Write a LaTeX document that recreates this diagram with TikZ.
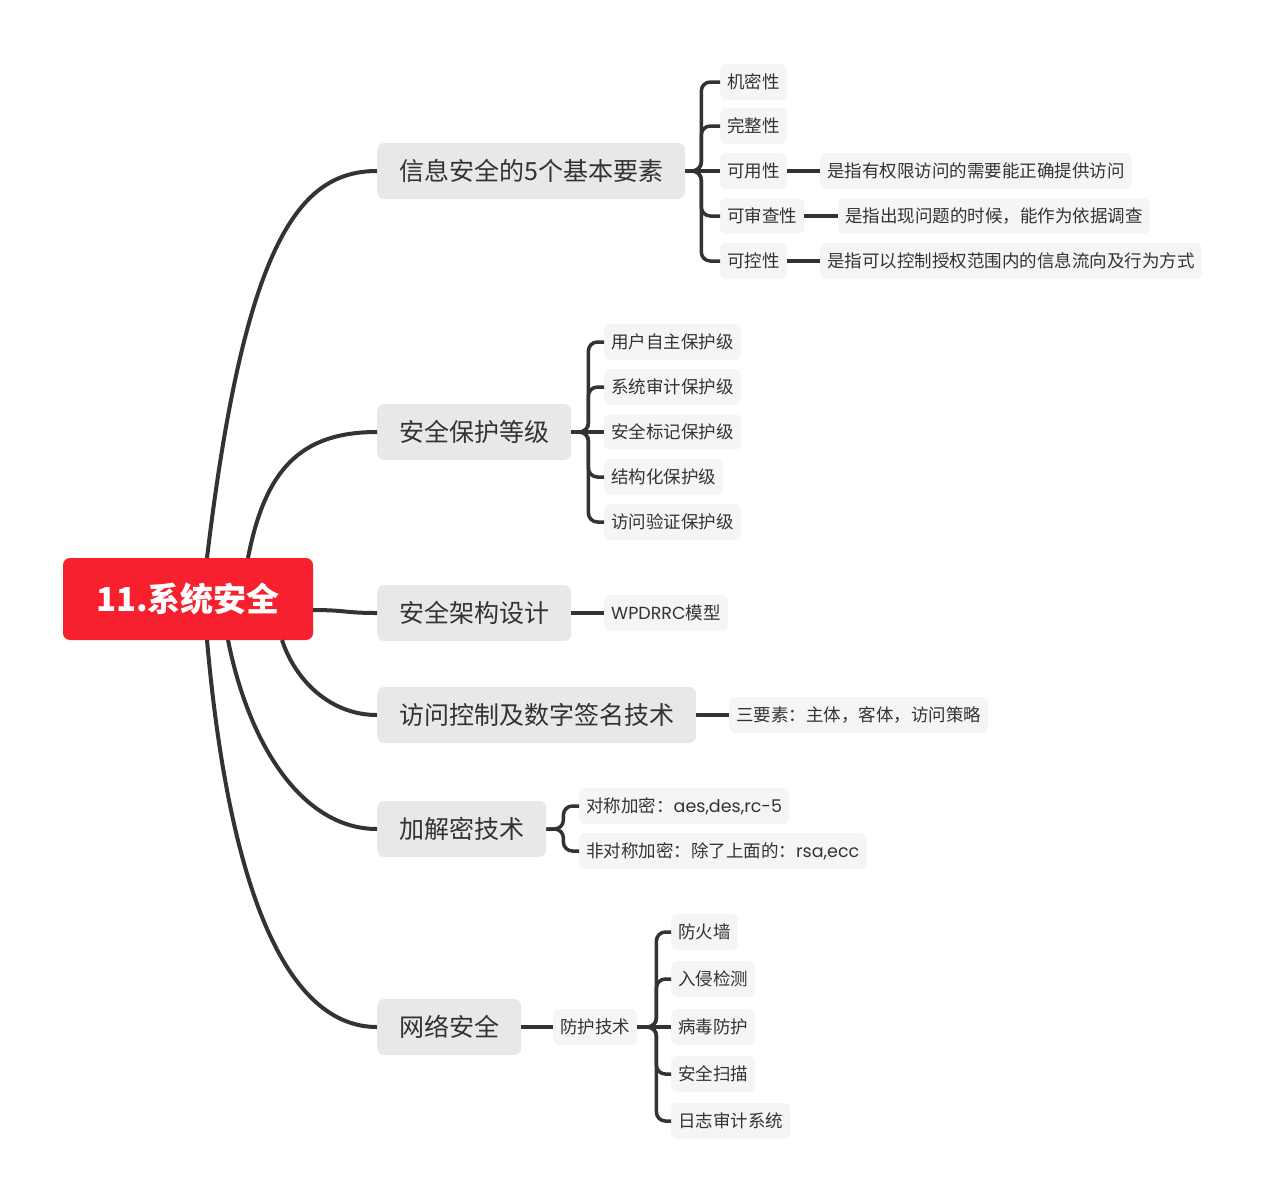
\documentclass[tikz,border=0pt]{standalone}
\usepackage{fontspec}
\setmainfont{Noto Sans CJK SC}
\newfontfamily\latin{Poppins}
\definecolor{rootred}{HTML}{F7202F}
\definecolor{topicgray}{HTML}{E8E8E8}
\definecolor{leafgray}{HTML}{F5F5F5}
\definecolor{ink}{HTML}{333333}
\begin{document}
\begin{tikzpicture}[x=1pt,y=-1pt,
		rootbox/.style={fill=rootred, text=white, rounded corners=7pt, minimum width=250pt, minimum height=82pt, font=\fontsize{33}{38}\selectfont\bfseries},
		topic/.style={anchor=west, fill=topicgray, text=ink, rounded corners=7pt, minimum height=56pt, inner xsep=22pt, font=\fontsize{25}{30}\selectfont},
		leaf/.style={anchor=west, fill=leafgray, text=ink, rounded corners=6pt, minimum height=36pt, inner xsep=7pt, font=\fontsize{17.5}{21}\selectfont},
		mainline/.style={draw=ink, line width=4pt},
		subline/.style={draw=ink, line width=3.5pt, rounded corners=9pt}]
		\useasboundingbox (0,0) rectangle (1265,1203);

		% root and main topics
		\node (root) at (188,599) [rootbox] {11.系统安全};
		\node (elem) at (377,171) [topic] {信息安全的5个基本要素};
		\node (level) at (377,432) [topic] {安全保护等级};
		\node (arch) at (377,613) [topic] {安全架构设计};
		\node (acc) at (377,715) [topic] {访问控制及数字签名技术};
		\node (crypt) at (377,829) [topic] {加解密技术};
		\node (net) at (377,1027) [topic] {网络安全};

		\draw[mainline] (207,558) .. controls (245,240) and (300,171) .. (elem.west);
		\draw[mainline] (248,558) .. controls (265,470) and (300,432) .. (level.west);
		\draw[mainline] (root.east |- 0,610) .. controls (345,610) and (345,613) .. (arch.west);
		\draw[mainline] (282,640) .. controls (295,680) and (330,715) .. (acc.west);
		\draw[mainline] (228,640) .. controls (250,750) and (305,829) .. (crypt.west);
		\draw[mainline] (207,640) .. controls (230,900) and (290,1027) .. (net.west);

		% five elements
		\node (conf) at (720,82) [leaf] {机密性};
		\node (integ) at (720,126) [leaf] {完整性};
		\node (avail) at (720,171) [leaf] {可用性};
		\node (audit) at (720,216) [leaf] {可审查性};
		\node (ctrl) at (720,261) [leaf] {可控性};
		\node (availtxt) at (820,171) [leaf] {是指有权限访问的需要能正确提供访问};
		\node (audittxt) at (838,216) [leaf] {是指出现问题的时候，能作为依据调查};
		\node (ctrltxt) at (820,261) [leaf] {是指可以控制授权范围内的信息流向及行为方式};
		\draw[subline] (elem.east) -- ++(16,0) |- (conf.west);
		\draw[subline] (elem.east) -- ++(16,0) |- (integ.west);
		\draw[subline] (elem.east) -- (avail.west);
		\draw[subline] (elem.east) -- ++(16,0) |- (audit.west);
		\draw[subline] (elem.east) -- ++(16,0) |- (ctrl.west);
		\draw[subline] (avail.east) -- (availtxt.west);
		\draw[subline] (audit.east) -- (audittxt.west);
		\draw[subline] (ctrl.east) -- (ctrltxt.west);

		% protection levels
		\node (lv1) at (604,342) [leaf] {用户自主保护级};
		\node (lv2) at (604,387) [leaf] {系统审计保护级};
		\node (lv3) at (604,432) [leaf] {安全标记保护级};
		\node (lv4) at (604,477) [leaf] {结构化保护级};
		\node (lv5) at (604,522) [leaf] {访问验证保护级};
		\draw[subline] (level.east) -- ++(17,0) |- (lv1.west);
		\draw[subline] (level.east) -- ++(17,0) |- (lv2.west);
		\draw[subline] (level.east) -- (lv3.west);
		\draw[subline] (level.east) -- ++(17,0) |- (lv4.west);
		\draw[subline] (level.east) -- ++(17,0) |- (lv5.west);

		% architecture, access control
		\node (wpdrrc) at (604,613) [leaf] {{\latin WPDRRC}模型};
		\node (three) at (729,715) [leaf] {三要素：主体，客体，访问策略};
		\draw[subline] (arch.east) -- (wpdrrc.west);
		\draw[subline] (acc.east) -- (three.west);

		% encryption
		\node (sym) at (579,806) [leaf] {对称加密：{\latin aes,des,rc-5}};
		\node (asym) at (579,851) [leaf] {非对称加密：除了上面的：{\latin rsa,ecc}};
		\draw[subline] (crypt.east) -- ++(17,0) |- (sym.west);
		\draw[subline] (crypt.east) -- ++(17,0) |- (asym.west);

		% network security
		\node (guard) at (553,1027) [leaf] {防护技术};
		\node (fw) at (671,932) [leaf] {防火墙};
		\node (ids) at (671,979) [leaf] {入侵检测};
		\node (virus) at (671,1027) [leaf] {病毒防护};
		\node (scan) at (671,1074) [leaf] {安全扫描};
		\node (log) at (671,1121) [leaf] {日志审计系统};
		\draw[subline] (net.east) -- (guard.west);
		\draw[subline] (guard.east) -- ++(19,0) |- (fw.west);
		\draw[subline] (guard.east) -- ++(19,0) |- (ids.west);
		\draw[subline] (guard.east) -- (virus.west);
		\draw[subline] (guard.east) -- ++(19,0) |- (scan.west);
		\draw[subline] (guard.east) -- ++(19,0) |- (log.west);
	\end{tikzpicture}
\end{document}
